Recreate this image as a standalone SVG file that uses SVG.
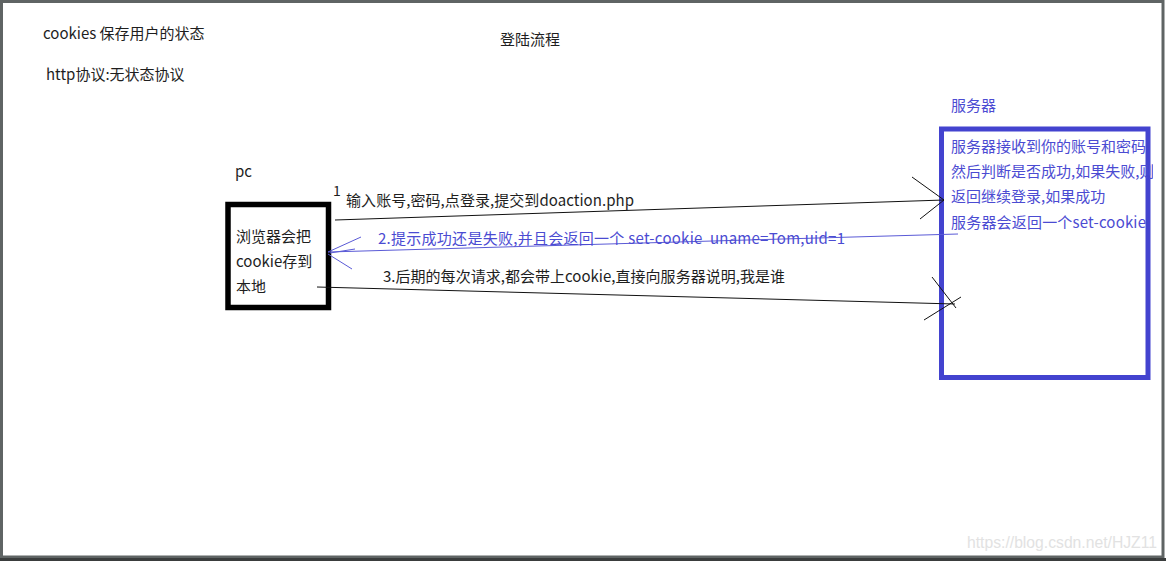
<svg xmlns="http://www.w3.org/2000/svg" width="1166" height="561" viewBox="0 0 1166 561">
<style>
text{font-family:"Noto Sans CJK SC","Noto Sans",sans-serif;font-size:15px;fill:#1e1e1e}
.b{fill:#4b4bd2}
.ln{stroke:#111;stroke-width:1;fill:none}
.bl{stroke:#5a5ad6;stroke-width:1;fill:none}
</style>
<defs>
<clipPath id="clipSrv"><rect x="940" y="120" width="213" height="270"/></clipPath>
</defs>
<rect x="0" y="0" width="1166" height="561" fill="#ffffff"/>
<rect x="1.5" y="1.5" width="1161.5" height="555.5" fill="none" stroke="#5f6464" stroke-width="3"/>
<rect x="0" y="558" width="1166" height="3" fill="#3a3d3d"/>
<g id="titles">
<text x="43" y="39">cookies 保存用户的状态</text>
<text x="46" y="80">http协议:无状态协议</text>
<text x="500" y="45">登陆流程</text>
</g>
<g id="pc">
<text x="235" y="177">pc</text>
<rect x="228" y="204.5" width="100.5" height="103" fill="none" stroke="#000" stroke-width="5.5"/>
<text x="236" y="242">浏览器会把</text>
<text x="236" y="267">cookie存到</text>
<text x="236" y="292">本地</text>
</g>
<g id="server">
<text class="b" x="951" y="111">服务器</text>
<rect x="941.5" y="129" width="206.5" height="248.5" fill="none" stroke="#4343cf" stroke-width="5"/>
<g clip-path="url(#clipSrv)">
<text class="b" x="951" y="152">服务器接收到你的账号和密码</text>
<text class="b" x="951" y="177">然后判断是否成功,如果失败,则</text>
<text class="b" x="951" y="202">返回继续登录,如果成功</text>
<text class="b" x="951" y="228" textLength="195">服务器会返回一个set-cookie</text>
</g>
</g>
<g id="connectors">
<path class="ln" d="M335 220 L944 200 M912 177 L944 200 M920 219 L944 200"/>
<path class="bl" d="M328 252 L958 234 M328 252 L361 237 M328 254 L352 269 M330 253 L355 249"/>
<path class="ln" stroke="#333" d="M317 287 L955 304 M932 277 L956 308 M924 320 L961 297"/>
<text x="333" y="196" style="font-size:14px">1</text>
<text x="346" y="206" textLength="288">输入账号,密码,点登录,提交到doaction.php</text>
<text class="b" x="378" y="244" textLength="467">2.提示成功还是失败,并且会返回一个 set-cookie&#160; uname=Tom,uid=1</text>
<text x="383" y="282" textLength="402">3.后期的每次请求,都会带上cookie,直接向服务器说明,我是谁</text>
</g>
<text x="967" y="548" textLength="190" lengthAdjust="spacingAndGlyphs" style="font-family:'Liberation Sans',Arial,sans-serif;font-size:16px;fill:#e2e2e2">https://blog.csdn.net/HJZ11</text>
</svg>
